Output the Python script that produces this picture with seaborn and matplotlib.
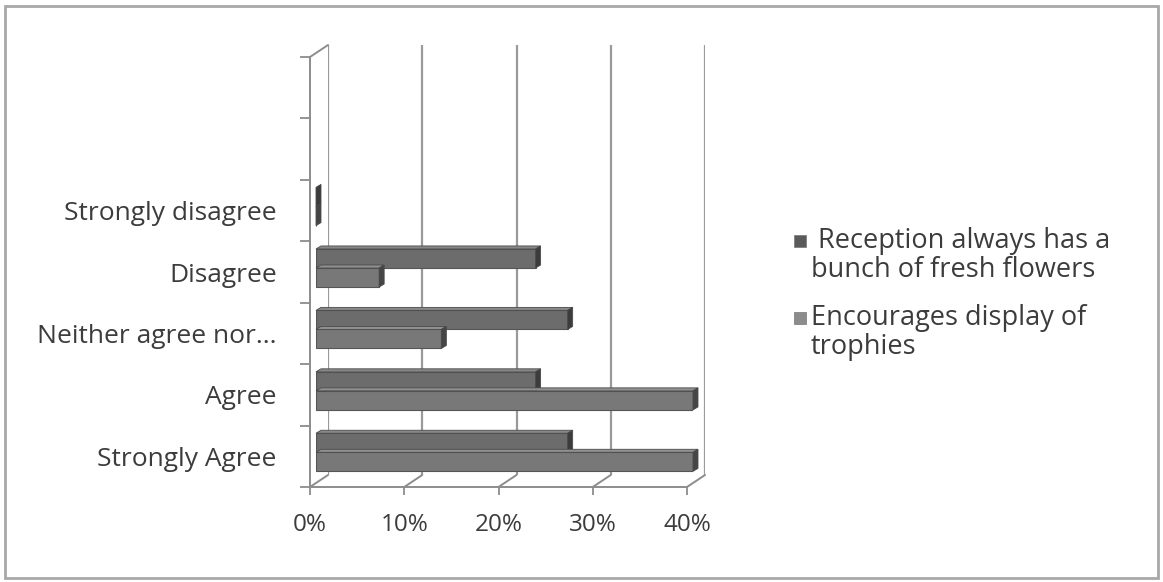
import numpy as np
import pandas as pd
import seaborn as sns
import matplotlib
matplotlib.use("Agg")
import matplotlib.pyplot as plt
from matplotlib.patches import Polygon, Rectangle
from matplotlib.lines import Line2D

# ---- data -------------------------------------------------------------
responses = ["Strongly disagree", "Disagree", "Neither agree nor...", "Agree", "Strongly Agree"]
series_names = ["Reception always has a bunch of fresh flowers",
                "Encourages display of trophies"]
reception_pct = [0.0, 23.3, 26.7, 23.3, 26.7]
trophies_pct = [0.0, 6.7, 13.3, 40.0, 40.0]
x_ticks = [0, 10, 20, 30, 40]
x_tick_labels = ["0%", "10%", "20%", "30%", "40%"]
legend_lines = [[" Reception always has a", "bunch of fresh flowers"],
                ["Encourages display of", "trophies"]]

df = pd.DataFrame({
    "response": responses * 2,
    "statement": [series_names[0]] * len(responses) + [series_names[1]] * len(responses),
    "percent": reception_pct + trophies_pct,
})

# ---- style ------------------------------------------------------------
sns.set_theme(style="white")
plt.rcParams["font.family"] = ["Open Sans", "DejaVu Sans"]
text_col = "#3c3c3c"
axis_col = "#8c8c8c"
face_cols = ["#6c6c6c", "#787878"]
side_cols = ["#3c3c3c", "#454545"]
top_cols = ["#878787", "#909090"]
swatch_cols = ["#5a5a5a", "#8c8c8c"]
FS_CAT = 19
FS_TICK = 17.5
FS_LEG = 19.5

W, H, DPI = 1163, 582, 100
fig = plt.figure(figsize=(W / DPI, H / DPI), dpi=DPI)
fig.patch.set_facecolor("white")


def px_box(left, top, right, bottom):
    """Axes rectangle from pixel edges (origin at the top-left)."""
    return [left / W, 1 - bottom / H, (right - left) / W, (bottom - top) / H]


def fx(x):
    return x / W


def fy(y):
    return 1 - y / H


# plane of the bars, with the back wall and front axes offset for depth
bar_l, bar_r, bar_t, bar_b = 316, 693, 53, 483
ax_back = fig.add_axes(px_box(bar_l + 12, bar_t - 8, bar_r + 12, bar_b - 8), zorder=0)
ax = fig.add_axes(px_box(bar_l, bar_t, bar_r, bar_b), zorder=1)
ax_front = fig.add_axes(px_box(bar_l - 6, bar_t + 4, bar_r - 6, bar_b + 4), zorder=2)

sns.barplot(data=df, y="response", x="percent", hue="statement",
            order=responses, hue_order=series_names, palette=face_cols,
            width=0.62, orient="h", ax=ax, legend=False,
            edgecolor="#555555", linewidth=0.8)

XLIM = (0, 40)
YLIM = (len(responses) - 0.5, -2.5)
for a in (ax_back, ax, ax_front):
    a.set_xlim(*XLIM)
    a.set_ylim(*YLIM)
    a.set_facecolor("none")

# bars plane: no decorations
ax.set_xlabel("")
ax.set_ylabel("")
ax.set_xticks([])
ax.set_yticks([])
for s in ax.spines.values():
    s.set_visible(False)

# back wall: vertical gridlines
ax_back.set_xticks(x_ticks)
ax_back.set_yticks([])
ax_back.tick_params(length=0, labelbottom=False, labelleft=False)
ax_back.grid(axis="x", color="#9a9a9a", linewidth=1.6)
for s in ax_back.spines.values():
    s.set_visible(False)

# front axes: ticks and labels
for k in ("top", "right"):
    ax_front.spines[k].set_visible(False)
for k in ("left", "bottom"):
    ax_front.spines[k].set_color(axis_col)
    ax_front.spines[k].set_linewidth(1.4)
ax_front.set_xticks(x_ticks)
ax_front.set_xticklabels(x_tick_labels)
ax_front.tick_params(axis="x", direction="out", length=6, width=1.3, color=axis_col,
                     pad=13, labelsize=FS_TICK, labelcolor=text_col, bottom=True)
boundaries = np.arange(YLIM[1], YLIM[0] + 1)
ax_front.set_yticks(boundaries)
ax_front.set_yticklabels([])
ax_front.tick_params(axis="y", which="major", direction="out", length=7, width=1.3,
                     color=axis_col, left=True)
ax_front.set_yticks(np.arange(len(responses)), minor=True)
ax_front.set_yticklabels(responses, minor=True)
ax_front.tick_params(axis="y", which="minor", length=0, pad=24, labelsize=FS_CAT,
                     labelcolor=text_col)

fig.canvas.draw()


def to_fig(a, pts):
    disp = a.transData.transform(pts)
    return fig.transFigure.inverted().transform(disp)


def data_from_px(a, disp):
    return a.transData.inverted().transform(disp)


# 3-D faces for each bar (side cap and top face), derived from the bar patches
DX, DY = 5.0, 3.0
n = len(responses)
for i, patch in enumerate(ax.patches[:2 * n]):
    h = i // n
    x0, y0 = patch.get_x(), patch.get_y()
    w, hgt = patch.get_width(), patch.get_height()
    patch.set_zorder(2 + h)
    (lx, ty), (rx, by) = ax.transData.transform([(x0, y0), (x0 + w, y0 + hgt)])
    top_y = max(ty, by)
    bot_y = min(ty, by)
    side = [(rx, bot_y), (rx, top_y), (rx + DX, top_y + DY), (rx + DX, bot_y + DY)]
    top = [(lx, top_y), (rx, top_y), (rx + DX, top_y + DY), (lx + DX, top_y + DY)]
    for pts, col in ((top, top_cols[h]), (side, side_cols[h])):
        ax.add_patch(Polygon(data_from_px(ax, pts), closed=True, facecolor=col,
                             edgecolor="#4a4a4a", linewidth=0.6, zorder=2 + h,
                             clip_on=False))

# floor ticks and corner edges joining the front axes to the back wall
lines = []
for v in x_ticks:
    f = to_fig(ax_front, [(v, YLIM[0])])[0]
    b = to_fig(ax_back, [(v, YLIM[0])])[0]
    lines.append(((f[0], b[0]), (f[1], b[1])))
f = to_fig(ax_front, [(0, YLIM[1])])[0]
b = to_fig(ax_back, [(0, YLIM[1])])[0]
lines.append(((f[0], b[0]), (f[1], b[1])))
for xs, ys in lines:
    fig.add_artist(Line2D(xs, ys, transform=fig.transFigure, color=axis_col,
                          linewidth=1.4))

# legend: square swatch beside the first line of each two-line entry
entry_tops = [241, 318]
line_step = 29
for col, lines_txt, y0 in zip(swatch_cols, legend_lines, entry_tops):
    fig.add_artist(Rectangle((fx(794), fy(y0 + 6)), 12 / W, 12 / H,
                             transform=fig.transFigure, facecolor=col,
                             edgecolor="#777777", linewidth=0.5))
    for j, t in enumerate(lines_txt):
        fig.text(fx(811), fy(y0 + j * line_step), t, fontsize=FS_LEG, color=text_col,
                 ha="left", va="center")

# outer frame of the chart area
fig.add_artist(Rectangle((5 / W, 4 / H), (W - 10) / W, (H - 10) / H,
                         transform=fig.transFigure, fill=False,
                         edgecolor="#a8a8a8", linewidth=2))

fig.savefig("out.png", dpi=DPI, facecolor="white")
